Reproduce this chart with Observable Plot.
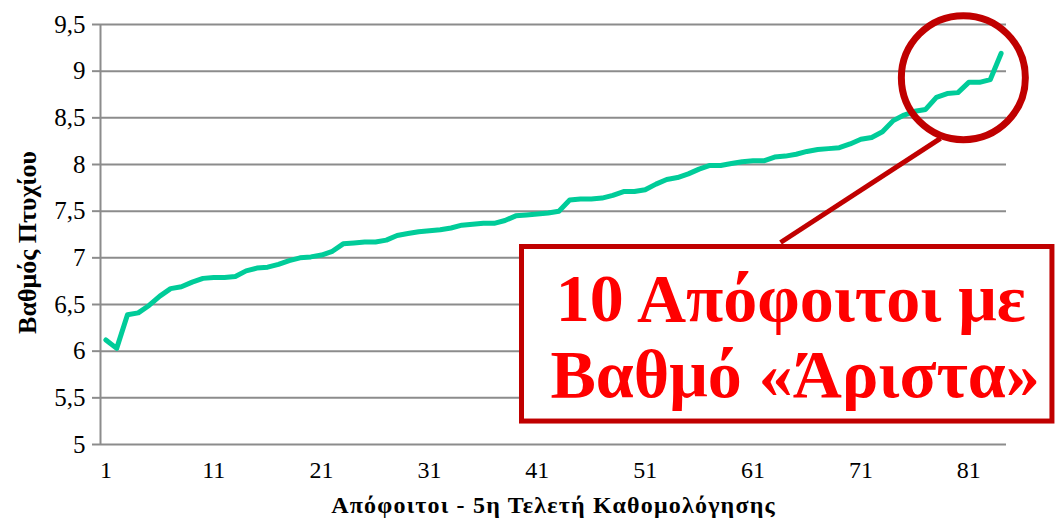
<!DOCTYPE html>
<html>
<head>
<meta charset="utf-8">
<script src="https://cdn.jsdelivr.net/npm/d3@7"></script>
<script src="https://cdn.jsdelivr.net/npm/@observablehq/plot@0.6"></script>
<style>
  html, body { margin: 0; padding: 0; background: #ffffff; }
  #chart { width: 1057px; height: 528px; overflow: hidden; }
</style>
</head>
<body>
<div id="chart"></div>
<script>
// Graduates (1..84) and their degree grades
const graduates = d3.range(1, 85);
const grades = [
  6.12, 6.03, 6.39, 6.41, 6.49, 6.59, 6.67, 6.69, 6.74, 6.78,
  6.79, 6.79, 6.80, 6.86, 6.89, 6.90, 6.93, 6.97, 7.00, 7.01,
  7.03, 7.07, 7.15, 7.16, 7.17, 7.17, 7.19, 7.24, 7.26, 7.28,
  7.29, 7.30, 7.32, 7.35, 7.36, 7.37, 7.37, 7.40, 7.45, 7.46,
  7.47, 7.48, 7.50, 7.62, 7.63, 7.63, 7.64, 7.67, 7.71, 7.71,
  7.73, 7.79, 7.84, 7.86, 7.90, 7.95, 7.99, 7.99, 8.01, 8.03,
  8.04, 8.04, 8.08, 8.09, 8.11, 8.14, 8.16, 8.17, 8.18, 8.22,
  8.27, 8.29, 8.35, 8.47, 8.53, 8.57, 8.59, 8.72, 8.76, 8.77,
  8.88, 8.88, 8.91, 9.19
];
const xTicks = [1, 11, 21, 31, 41, 51, 61, 71, 81];
const yTicks = [5, 5.5, 6, 6.5, 7, 7.5, 8, 8.5, 9, 9.5];
const xTitle = "Απόφοιτοι - 5η Τελετή Καθομολόγησης";
const yTitle = "Βαθμός Πτυχίου";
const calloutLines = ["10 Απόφοιτοι με", "Βαθμό «Άριστα»"];

const data = graduates.map((g, i) => ({graduate: g, grade: grades[i]}));

// Annotation geometry in data units
const circle = [{x: 80.5, y: 8.93}];
const connector = [{x1: 63.55, y1: 7.164, x2: 78.38, y2: 8.279}];
const box = [{x1: 39.58, x2: 88.76, y1: 5.246, y2: 7.116}];
const calloutText = [
  {x: 64.5, y: 6.56, t: calloutLines[0]},
  {x: 64.9, y: 5.745, t: calloutLines[1]}
];

const red = "#C00000";
const grid = "#8c8c8c";

const chart = Plot.plot({
  width: 1057,
  height: 528,
  marginLeft: 100,
  marginRight: 51,
  marginTop: 24,
  marginBottom: 84,
  style: {fontFamily: "'Liberation Serif', 'Times New Roman', serif", fontSize: "24px", color: "#000", overflow: "visible", background: "#fff"},
  x: {type: "linear", domain: [0.5, 84.5]},
  y: {domain: [5, 9.5]},
  marks: [
    Plot.gridY(yTicks, {stroke: grid, strokeOpacity: 1, strokeWidth: 2}),
    Plot.ruleX([0.5], {stroke: grid, strokeWidth: 2}),
    Plot.axisY(yTicks, {tickSize: 8, tickPadding: 7, stroke: grid, strokeWidth: 2, tickFormat: d => String(d).replace(".", ","), label: null, fill: "#000", fontSize: 25}),
    Plot.axisX(xTicks, {tickSize: 0, tickPadding: 16, tickFormat: d => String(d), label: null, fill: "#000", fontSize: 24}),
    Plot.text([xTitle], {frameAnchor: "bottom", dy: 68, fontWeight: "bold", fontSize: 24, fill: "#000"}),
    Plot.text([yTitle], {frameAnchor: "left", textAnchor: "middle", rotate: -90, dx: -73, dy: 8, fontWeight: "bold", fontSize: 26, fill: "#000"}),
    Plot.line(data, {x: "graduate", y: "grade", stroke: "#00CC99", strokeWidth: 5, strokeLinejoin: "round", strokeLinecap: "round"}),
    Plot.dot(circle, {x: "x", y: "y", r: 62, stroke: red, strokeWidth: 7, fill: "none"}),
    Plot.link(connector, {x1: "x1", y1: "y1", x2: "x2", y2: "y2", stroke: red, strokeWidth: 5}),
    Plot.rect(box, {x1: "x1", x2: "x2", y1: "y1", y2: "y2", fill: "#fff", stroke: red, strokeWidth: 5}),
    Plot.text(calloutText, {x: "x", y: "y", text: "t", fill: "#FF0000", fontWeight: "bold", fontSize: 68, textAnchor: "middle"})
  ]
});
document.getElementById("chart").appendChild(chart);
// widen the x title slightly to match the reference letter spacing
chart.querySelectorAll("text").forEach(t => {
  if (t.textContent === xTitle) t.setAttribute("letter-spacing", "1.2");
});
</script>
</body>
</html>
